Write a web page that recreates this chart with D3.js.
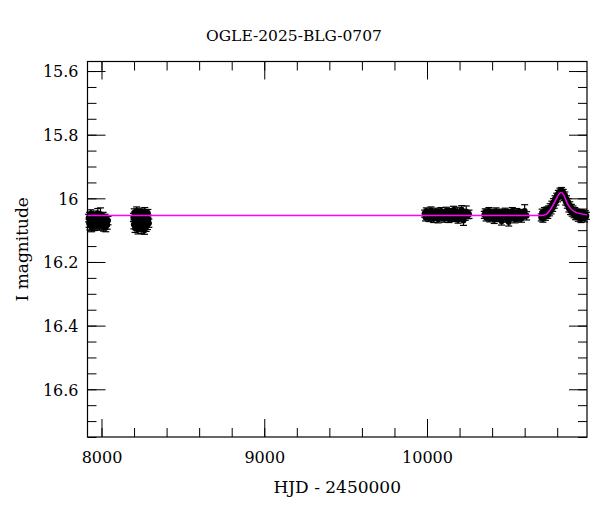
<!DOCTYPE html>
<html>
<head>
<meta charset="utf-8">
<script src="https://cdn.jsdelivr.net/npm/d3@7"></script>
<style>
  body { margin: 0; background: #fff; }
  svg { display: block; }
  text { font-family: "DejaVu Serif", "Liberation Serif", serif; fill: #000; }
</style>
</head>
<body>
<div id="vis"></div>
<script>

// observations, [HJD-2450000, I mag, error], one array per season
var season1 = [
	[7921, 16.062, .012], [7924, 16.078, .013], [7927, 16.055, .011], [7929, 16.085, .014],
	[7932, 16.070, .012], [7934, 16.048, .012], [7937, 16.066, .013], [7939, 16.090, .015],
	[7942, 16.074, .012], [7944, 16.058, .011], [7947, 16.081, .013], [7949, 16.067, .012],
	[7952, 16.052, .012], [7954, 16.076, .014], [7957, 16.088, .013], [7959, 16.063, .012],
	[7962, 16.071, .012], [7964, 16.056, .011], [7967, 16.083, .014], [7969, 16.069, .012],
	[7972, 16.060, .012], [7974, 16.079, .013], [7977, 16.047, .015], [7979, 16.072, .012],
	[7982, 16.064, .013], [7984, 16.087, .013], [7987, 16.058, .012], [7989, 16.075, .012],
	[7992, 16.066, .012], [7994, 16.050, .020], [7997, 16.080, .013], [7999, 16.069, .012],
	[8002, 16.061, .012], [8004, 16.085, .014], [8007, 16.073, .012], [8010, 16.057, .013],
	[8013, 16.090, .013], [8016, 16.068, .012], [8019, 16.078, .014], [8022, 16.062, .012],
	[8026, 16.092, .013], [8030, 16.075, .013], [8035, 16.083, .014], [8040, 16.070, .013]
];

var season2 = [
	[8196, 16.060, .013], [8199, 16.082, .014], [8201, 16.045, .012], [8204, 16.071, .013],
	[8206, 16.093, .014], [8209, 16.055, .012], [8211, 16.067, .013], [8214, 16.086, .013],
	[8216, 16.040, .013], [8219, 16.074, .012], [8221, 16.062, .013], [8224, 16.098, .014],
	[8226, 16.051, .012], [8229, 16.079, .013], [8231, 16.066, .012], [8234, 16.089, .014],
	[8236, 16.044, .013], [8239, 16.070, .012], [8241, 16.058, .012], [8244, 16.095, .015],
	[8246, 16.063, .012], [8249, 16.081, .013], [8251, 16.048, .013], [8254, 16.073, .012],
	[8256, 16.087, .014], [8259, 16.055, .012], [8261, 16.068, .013], [8264, 16.100, .013],
	[8266, 16.041, .012], [8269, 16.077, .013], [8271, 16.062, .012], [8274, 16.090, .014],
	[8276, 16.053, .013], [8279, 16.071, .012], [8282, 16.084, .014], [8285, 16.047, .012],
	[8288, 16.066, .013], [8291, 16.078, .013]
];

var season3 = [
	[9985, 16.048, .011], [9991, 16.060, .011], [9996, 16.040, .010], [10002, 16.055, .011],
	[10008, 16.045, .010], [10013, 16.062, .011], [10019, 16.050, .010], [10024, 16.038, .011],
	[10030, 16.057, .011], [10036, 16.047, .010], [10041, 16.064, .012], [10047, 16.052, .010],
	[10052, 16.042, .011], [10058, 16.058, .011], [10063, 16.049, .010], [10069, 16.066, .011],
	[10074, 16.044, .010], [10080, 16.055, .011], [10086, 16.040, .011], [10091, 16.061, .010],
	[10097, 16.051, .011], [10102, 16.046, .010], [10108, 16.063, .012], [10113, 16.053, .010],
	[10119, 16.039, .011], [10124, 16.058, .011], [10130, 16.047, .010], [10135, 16.065, .011],
	[10141, 16.050, .010], [10146, 16.043, .011], [10152, 16.060, .011], [10157, 16.054, .010],
	[10163, 16.037, .012], [10168, 16.062, .011], [10174, 16.048, .010], [10180, 16.056, .011],
	[10185, 16.041, .013], [10191, 16.067, .011], [10196, 16.052, .010], [10202, 16.045, .011],
	[10207, 16.059, .012], [10213, 16.036, .013], [10218, 16.055, .011], [10224, 16.070, .015],
	[10229, 16.047, .012], [10235, 16.058, .011], [10241, 16.042, .018], [10250, 16.052, .012],
	[10258, 16.050, .013]
];

var season4 = [
	[10352, 16.052, .011], [10358, 16.043, .010], [10363, 16.060, .011], [10369, 16.048, .010],
	[10374, 16.055, .011], [10380, 16.040, .011], [10385, 16.063, .011], [10391, 16.050, .010],
	[10397, 16.045, .011], [10402, 16.058, .011], [10408, 16.047, .010], [10413, 16.067, .012],
	[10419, 16.053, .010], [10424, 16.041, .011], [10430, 16.057, .011], [10436, 16.049, .010],
	[10441, 16.062, .011], [10447, 16.044, .010], [10452, 16.054, .011], [10458, 16.072, .012],
	[10463, 16.046, .010], [10469, 16.059, .011], [10474, 16.051, .010], [10480, 16.042, .011],
	[10486, 16.064, .011], [10491, 16.048, .010], [10497, 16.056, .011], [10502, 16.074, .013],
	[10508, 16.045, .010], [10513, 16.060, .011], [10519, 16.052, .010], [10524, 16.040, .011],
	[10530, 16.058, .011], [10536, 16.049, .010], [10541, 16.066, .011], [10547, 16.054, .010],
	[10552, 16.043, .011], [10558, 16.061, .011], [10563, 16.050, .010], [10569, 16.057, .011],
	[10575, 16.046, .011], [10580, 16.063, .012], [10590, 16.052, .012], [10600, 16.040, .020],
	[10612, 16.055, .013]
];

var season5 = [
	[10702, 16.060, .011], [10707, 16.045, .011], [10712, 16.063, .012], [10717, 16.050, .011],
	[10722, 16.040, .011], [10727, 16.058, .011], [10732, 16.046, .011], [10737, 16.038, .011],
	[10742, 16.052, .011], [10747, 16.035, .011], [10752, 16.044, .011], [10757, 16.028, .011],
	[10762, 16.038, .011], [10767, 16.020, .011], [10772, 16.030, .011], [10777, 16.012, .011],
	[10782, 16.020, .011], [10787, 16.002, .010], [10792, 16.010, .011], [10797, 15.994, .010],
	[10802, 16.000, .011], [10807, 15.985, .010], [10812, 15.992, .010], [10817, 15.978, .010],
	[10822, 15.986, .010], [10827, 15.976, .010], [10832, 15.990, .010], [10837, 15.982, .010],
	[10842, 15.997, .010], [10847, 15.990, .010], [10852, 16.010, .011], [10857, 16.002, .010],
	[10862, 16.020, .011], [10867, 16.012, .011], [10872, 16.032, .011], [10877, 16.022, .011],
	[10882, 16.040, .011], [10887, 16.030, .011], [10892, 16.045, .011], [10897, 16.035, .011],
	[10903, 16.050, .011], [10908, 16.040, .011], [10913, 16.056, .011], [10918, 16.044, .011],
	[10924, 16.052, .011], [10929, 16.060, .012], [10935, 16.046, .011], [10940, 16.055, .011],
	[10946, 16.064, .012], [10951, 16.049, .011], [10957, 16.058, .011], [10962, 16.045, .011],
	[10968, 16.062, .012], [10973, 16.050, .011], [10979, 16.055, .011]
];

// fitted model
var modelHJD = [7914, 10700, 10730, 10757, 10772, 10787, 10800, 10812, 10824, 10836, 10848, 10859, 10875, 10890, 10915, 10941, 10983];
var modelMag = [16.054, 16.054, 16.051, 16.036, 16.024, 16.009, 15.996, 15.986, 15.982, 15.986, 15.998, 16.013, 16.027, 16.036, 16.044, 16.048, 16.052];

var xMajor = [8000, 9000, 10000];
var xMinor = d3.range(8000, 11000, 200);
var yMajor = [15.6, 15.8, 16.0, 16.2, 16.4, 16.6];
var yMinor = d3.range(15.6, 16.751, 0.05);

var title = 'OGLE-2025-BLG-0707';
var xTitle = 'HJD - 2450000';
var yTitle = 'I magnitude';

var width = 600, height = 512;
var plotLeft = 87.5, plotRight = 587, plotTop = 61.5, plotBottom = 437;

var x = d3.scaleLinear().domain([7914, 10983]).range([plotLeft, plotRight]);
var y = d3.scaleLinear().domain([15.57, 16.75]).range([plotTop, plotBottom]);

var svg = d3.select('#vis').append('svg')
	.attr('width', width)
	.attr('height', height);

function drawAxis(axis, tx, ty) {
	var g = svg.append('g')
		.attr('transform', 'translate(' + tx + ',' + ty + ')')
		.call(axis);
	g.select('.domain').remove();
	g.selectAll('line').attr('stroke', '#000').attr('stroke-width', 1);
	return g;
}

// ticks point inward on all four sides
var bottomMajor = drawAxis(d3.axisBottom(x).tickValues(xMajor).tickSize(-18).tickFormat(d3.format('d')), 0, plotBottom);
drawAxis(d3.axisBottom(x).tickValues(xMinor).tickSize(-9).tickFormat(''), 0, plotBottom);
drawAxis(d3.axisTop(x).tickValues(xMajor).tickSize(-18).tickFormat(''), 0, plotTop);
drawAxis(d3.axisTop(x).tickValues(xMinor).tickSize(-9).tickFormat(''), 0, plotTop);

var leftMajor = drawAxis(d3.axisLeft(y).tickValues(yMajor).tickSize(-18).tickFormat(d3.format('~g')), plotLeft, 0);
drawAxis(d3.axisLeft(y).tickValues(yMinor).tickSize(-9).tickFormat(''), plotLeft, 0);
drawAxis(d3.axisRight(y).tickValues(yMajor).tickSize(-18).tickFormat(''), plotRight, 0);
drawAxis(d3.axisRight(y).tickValues(yMinor).tickSize(-9).tickFormat(''), plotRight, 0);

bottomMajor.selectAll('text')
	.attr('y', 26).attr('dy', null)
	.style('font-family', '"DejaVu Serif", serif')
	.style('font-size', '16px');

leftMajor.selectAll('text')
	.attr('x', -9).attr('dy', '0.36em')
	.style('font-family', '"DejaVu Serif", serif')
	.style('font-size', '16px');

svg.append('rect')
	.attr('x', plotLeft).attr('y', plotTop)
	.attr('width', plotRight - plotLeft).attr('height', plotBottom - plotTop)
	.attr('fill', 'none')
	.attr('stroke', '#000')
	.attr('stroke-width', 1.2);

// data with error bars
var obs = season1.concat(season2, season3, season4, season5);

var plot = svg.append('g');

var bars = plot.selectAll('.err')
	.data(obs)
	.enter().append('g')
	.attr('class', 'err')
	.attr('stroke', '#000')
	.attr('stroke-width', 1.2);

bars.append('line')
	.attr('x1', function (d) { return x(d[0]); })
	.attr('x2', function (d) { return x(d[0]); })
	.attr('y1', function (d) { return y(d[1] - d[2]); })
	.attr('y2', function (d) { return y(d[1] + d[2]); });

bars.append('line')
	.attr('x1', function (d) { return x(d[0]) - 3.5; })
	.attr('x2', function (d) { return x(d[0]) + 3.5; })
	.attr('y1', function (d) { return y(d[1] - d[2]); })
	.attr('y2', function (d) { return y(d[1] - d[2]); });

bars.append('line')
	.attr('x1', function (d) { return x(d[0]) - 3.5; })
	.attr('x2', function (d) { return x(d[0]) + 3.5; })
	.attr('y1', function (d) { return y(d[1] + d[2]); })
	.attr('y2', function (d) { return y(d[1] + d[2]); });

plot.selectAll('.pt')
	.data(obs)
	.enter().append('circle')
	.attr('class', 'pt')
	.attr('cx', function (d) { return x(d[0]); })
	.attr('cy', function (d) { return y(d[1]); })
	.attr('r', 3)
	.attr('fill', '#000');

// model curve
var model = modelHJD.map(function (t, i) { return [t, modelMag[i]]; });

plot.append('path')
	.datum(model)
	.attr('fill', 'none')
	.attr('stroke', '#ff00ff')
	.attr('stroke-width', 1.5)
	.attr('d', d3.line()
		.x(function (d) { return x(d[0]); })
		.y(function (d) { return y(d[1]); })
		.curve(d3.curveMonotoneX));

// titles
svg.append('text')
	.attr('x', 294).attr('y', 41)
	.attr('text-anchor', 'middle')
	.style('font-size', '15.5px')
	.text(title);

svg.append('text')
	.attr('x', (plotLeft + plotRight) / 2).attr('y', 493)
	.attr('text-anchor', 'middle')
	.style('font-size', '17px')
	.text(xTitle);

svg.append('text')
	.attr('transform', 'translate(28,' + ((plotTop + plotBottom) / 2) + ') rotate(-90)')
	.attr('text-anchor', 'middle')
	.style('font-size', '17px')
	.text(yTitle);

</script>
</body>
</html>
